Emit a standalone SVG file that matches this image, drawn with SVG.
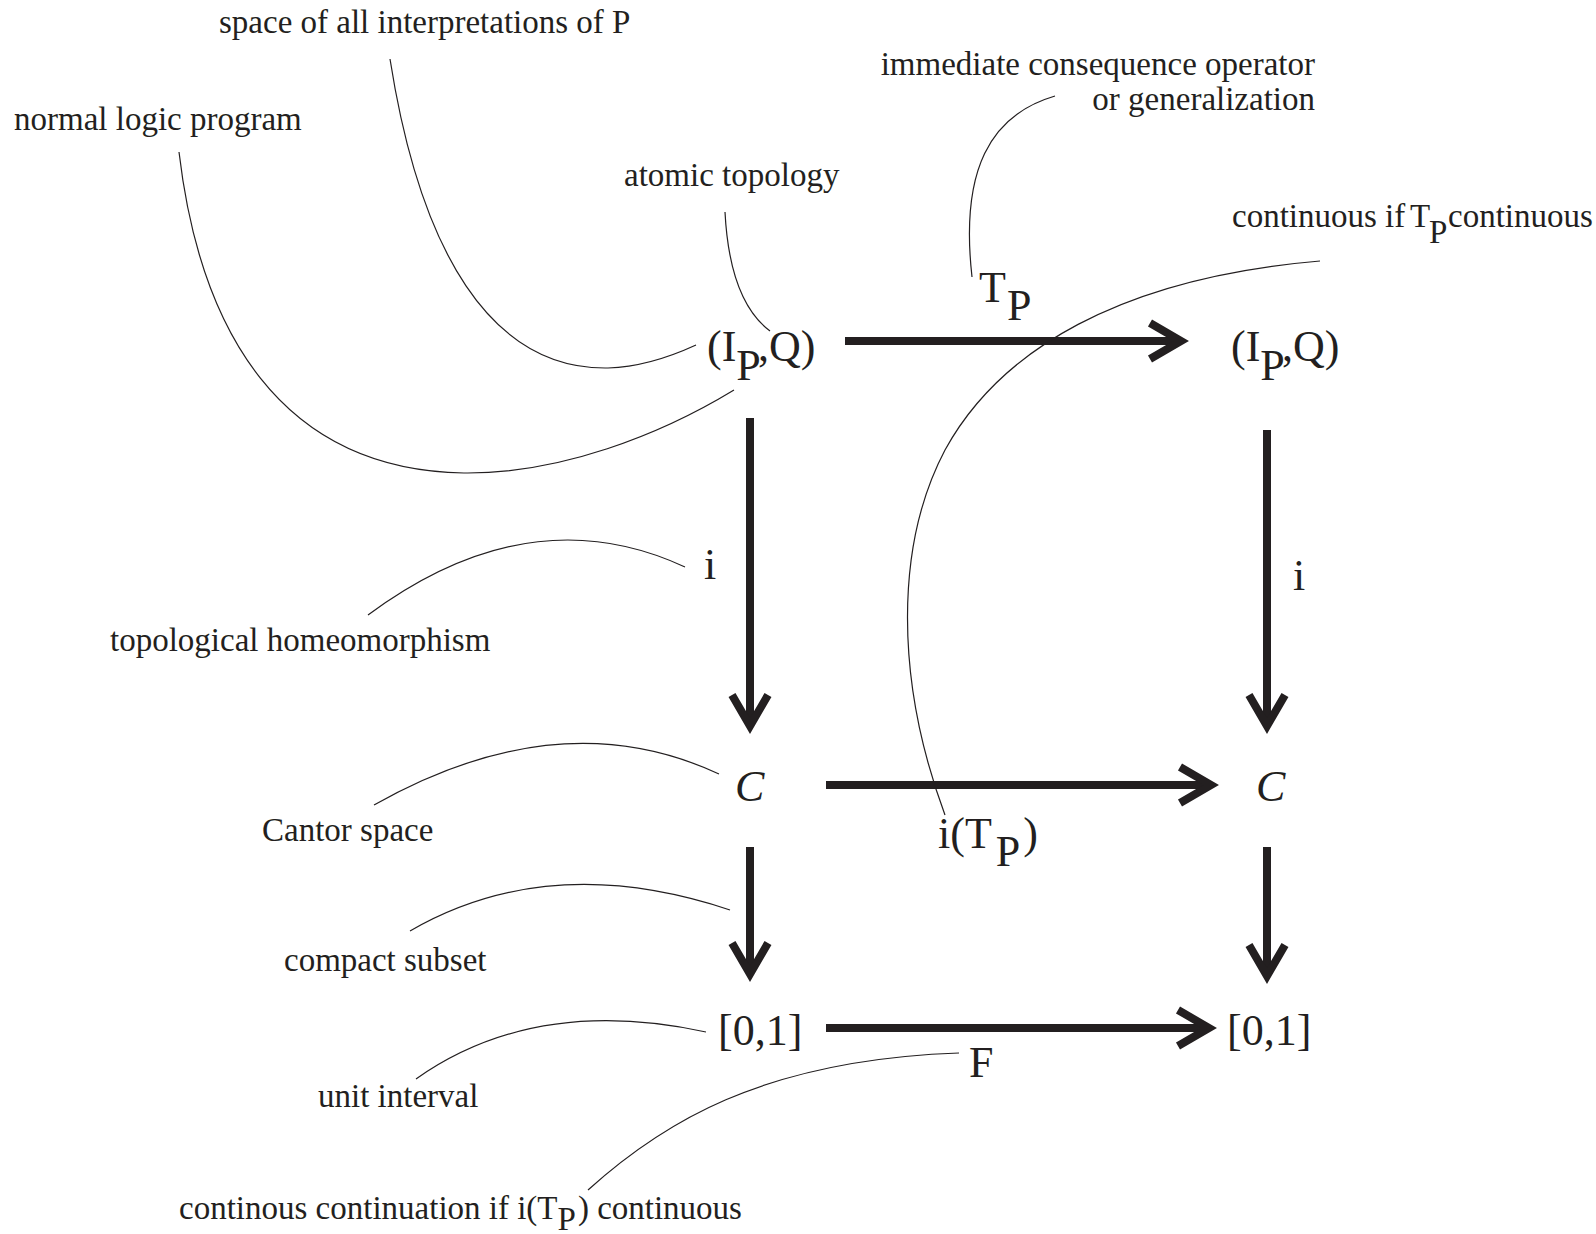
<svg xmlns="http://www.w3.org/2000/svg" width="1596" height="1234" viewBox="0 0 1596 1234">
<defs>
<style>
text{font-family:"Liberation Serif","Times New Roman",serif;fill:#231f20}
.lbl{font-size:33px}
.m{font-size:44px}
.it{font-style:italic}
.lead{fill:none;stroke:#231f20;stroke-width:1.2}
.arr{fill:none;stroke:#231f20;stroke-width:8;marker-end:url(#ah)}
</style>
<marker id="ah" markerUnits="userSpaceOnUse" orient="auto" refX="0" refY="0" markerWidth="60" markerHeight="60" viewBox="-40 -30 60 60" overflow="visible">
<path d="M-31,-18 L0,0 L-31,18" fill="none" stroke="#231f20" stroke-width="8" stroke-linejoin="miter" stroke-miterlimit="10"/>
</marker>
</defs>
<rect width="1596" height="1234" fill="#fff"/>

<g id="connectors">
<path class="arr" d="M845,341 H1181"/>
<path class="arr" d="M750,418 V726"/>
<path class="arr" d="M1267,430 V726"/>
<path class="arr" d="M826,785 H1211"/>
<path class="arr" d="M750,847 V974"/>
<path class="arr" d="M1267,847 V976"/>
<path class="arr" d="M826,1028 H1209"/>
</g>

<g id="leaders">
<path class="lead" d="M390,59 C420,250 490,370 608,368 C640,367 670,357 696,345"/>
<path class="lead" d="M179,152 C200,330 280,470 464,473 C560,474 660,435 734,390"/>
<path class="lead" d="M725,212 C728,270 742,310 770,331"/>
<path class="lead" d="M1055,96 C990,115 960,170 972,277"/>
<path class="lead" d="M1320,261 C1120,278 1000,350 945,450 C895,545 895,680 945,815"/>
<path class="lead" d="M368,615 Q530,495 685,567"/>
<path class="lead" d="M374,805 Q560,700 719,774"/>
<path class="lead" d="M410,931 Q550,850 730,910"/>
<path class="lead" d="M416,1079 Q535,995 706,1032"/>
<path class="lead" d="M588,1190 C660,1125 760,1060 959,1053"/>
</g>

<g id="node-IPQ-left"><text class="m" x="707" y="361">(I<tspan dy="19">P</tspan><tspan dx="2" dy="-19">,Q)</tspan></text></g>
<g id="node-IPQ-right"><text class="m" x="1231" y="361">(I<tspan dy="19">P</tspan><tspan dx="2" dy="-19">,Q)</tspan></text></g>
<g id="node-C-left"><text class="m it" x="735" y="801">C</text></g>
<g id="node-C-right"><text class="m it" x="1256" y="801">C</text></g>
<g id="node-unit-left"><text class="m" x="718" y="1045">[0,1]</text></g>
<g id="node-unit-right"><text class="m" x="1227" y="1045">[0,1]</text></g>

<g id="edge-labels">
<text class="m" x="979" y="302">T<tspan dx="1" dy="18">P</tspan></text>
<text class="m" x="704" y="579">i</text>
<text class="m" x="1293" y="590">i</text>
<text class="m" x="938" y="848">i(T<tspan dx="4" dy="18">P</tspan><tspan dx="3" dy="-18">)</tspan></text>
<text class="m" x="969" y="1077">F</text>
</g>

<g id="annotations">
<text class="lbl" x="219" y="33">space of all interpretations of P</text>
<text class="lbl" x="14" y="130">normal logic program</text>
<text class="lbl" x="624" y="186">atomic topology</text>
<text class="lbl" x="1315" y="75" text-anchor="end">immediate consequence operator</text>
<text class="lbl" x="1315" y="110" text-anchor="end">or generalization</text>
<text class="lbl" x="1232" y="227">continuous if<tspan x="1410">T</tspan><tspan x="1429" dy="16">P</tspan><tspan x="1448" dy="-16">continuous</tspan></text>
<text class="lbl" x="110" y="651">topological homeomorphism</text>
<text class="lbl" x="262" y="841">Cantor space</text>
<text class="lbl" x="284" y="971">compact subset</text>
<text class="lbl" x="318" y="1107">unit interval</text>
<text class="lbl" x="179" y="1219">continous continuation if i(T<tspan dy="11">P</tspan><tspan dx="2" dy="-11">) continuous</tspan></text>
</g>
</svg>
